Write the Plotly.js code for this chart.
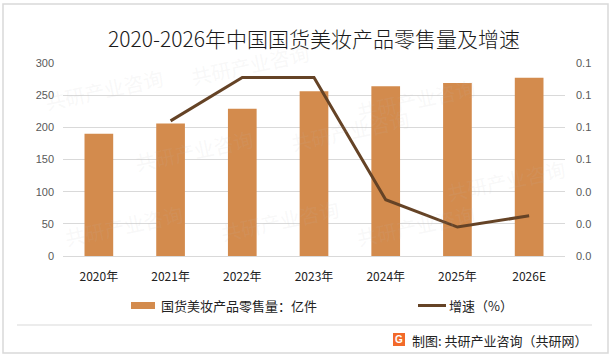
<!DOCTYPE html>
<html>
<head>
<meta charset="utf-8">
<script src="https://cdn.plot.ly/plotly-3.0.1.min.js"></script>
<style>
html,body{margin:0;padding:0;background:#fff;}
#chart{width:614px;height:358px;}
</style>
</head>
<body>
<div id="chart"></div>
<script>
// ---- data ----
const categories = ["2020年","2021年","2022年","2023年","2024年","2025年","2026E"];
const salesVolume = [190, 206, 229, 256, 264, 269, 277];
const growthCategories = ["2021年","2022年","2023年","2024年","2025年","2026E"];
const growthRate = [0.084, 0.111, 0.111, 0.035, 0.018, 0.025];
const barName = "国货美妆产品零售量：亿件";
const lineName = "增速（%）";
const chartTitle = "2020-2026年中国国货美妆产品零售量及增速";
const footerText = "制图: 共研产业咨询（共研网）";

// ---- layout helpers (pixel -> paper) ----
const W = 614, H = 358;
const M = {l: 63, r: 49, t: 63, b: 102};
const PW = W - M.l - M.r, PH = H - M.t - M.b;
const px = x => (x - M.l) / PW;
const py = y => (H - M.b - y) / PH;

const BAR_COLOR = "#d38b4d";
const LINE_COLOR = "#654326";
const CJK = "Noto Sans CJK SC, sans-serif";

const traces = [
  {
    type: "bar", name: barName, x: categories, y: salesVolume,
    marker: {color: BAR_COLOR}, width: 0.4, showlegend: false, hoverinfo: "x+y"
  },
  {
    type: "scatter", mode: "lines", name: lineName, x: growthCategories, y: growthRate,
    yaxis: "y2", line: {color: LINE_COLOR, width: 3}, showlegend: false
  }
];

const watermarks = [];
const wmPos = [[40,60],[250,35],[480,70],[130,150],[350,130],[570,180],[60,255],[280,250],[480,255]];
wmPos.forEach(p => {
  watermarks.push({xref:"paper", yref:"paper", x: px(p[0]), y: py(p[1]), text: "共研产业咨询",
    showarrow:false, textangle:-12, font:{family:CJK, size:20, color:"rgba(190,190,190,0.10)"}});
});

const layout = {
  width: W, height: H,
  margin: {l: M.l, r: M.r, t: M.t, b: M.b, pad: 0},
  paper_bgcolor: "#ffffff", plot_bgcolor: "#ffffff",
  title: {text: chartTitle, x: 0.5, xref: "paper", y: 1 - 40/H, yanchor: "middle",
    font: {family: CJK, size: 21, color: "#1a1a1a", weight: 300}},
  xaxis: {
    type: "category", showgrid: false, zeroline: false, showline: false,
    ticks: "outside", ticklen: 10, tickcolor: "rgba(0,0,0,0)",
    tickfont: {family: CJK, size: 12, color: "#222"}, fixedrange: true
  },
  yaxis: {
    range: [0, 300], dtick: 50, showgrid: true, gridcolor: "#d9d9d9", gridwidth: 1,
    zeroline: true, zerolinecolor: "#d9d9d9", showline: false,
    ticks: "", ticklabelstandoff: 8,
    tickfont: {family: "Liberation Sans, sans-serif", size: 11, color: "#595959"}
  },
  yaxis2: {
    overlaying: "y", side: "right", range: [0, 0.12], dtick: 0.02, tickformat: ".1f",
    showgrid: false, zeroline: false, showline: false, ticks: "", ticklabelstandoff: 10,
    tickfont: {family: "Liberation Sans, sans-serif", size: 11, color: "#595959"}
  },
  shapes: [
    {type:"rect", xref:"paper", yref:"paper", x0: px(3), x1: px(608), y0: py(353), y1: py(4),
      line:{color:"#d9d9d9", width:1.5}, fillcolor:"rgba(0,0,0,0)", layer:"below"},
    {type:"line", xref:"paper", yref:"paper", x0: px(17), x1: px(592), y0: py(325), y1: py(325),
      line:{color:"#d9d9d9", width:1.2}},
    // legend swatches
    {type:"rect", xref:"paper", yref:"paper", x0: px(131), x1: px(155), y0: py(309), y1: py(302),
      fillcolor: BAR_COLOR, line:{width:0}},
    {type:"line", xref:"paper", yref:"paper", x0: px(418), x1: px(446), y0: py(305.5), y1: py(305.5),
      line:{color: LINE_COLOR, width:3}},
    // logo
    {type:"rect", xref:"paper", yref:"paper", x0: px(393), x1: px(405), y0: py(346), y1: py(333),
      fillcolor:"#f26a2a", line:{width:0}}
  ],
  annotations: watermarks.concat([
    {xref:"paper", yref:"paper", x: px(159), y: py(305.5), xanchor:"left", yanchor:"middle",
      text: barName, showarrow:false, font:{family:CJK, size:13, color:"#222"}},
    {xref:"paper", yref:"paper", x: px(447), y: py(305.5), xanchor:"left", yanchor:"middle",
      text: lineName, showarrow:false, font:{family:CJK, size:13, color:"#222"}},
    {xref:"paper", yref:"paper", x: px(399), y: py(339.5), xanchor:"center", yanchor:"middle",
      text: "<b>G</b>", showarrow:false, font:{family:"Liberation Sans", size:10, color:"#fff"}},
    {xref:"paper", yref:"paper", x: px(410), y: py(340), xanchor:"left", yanchor:"middle",
      text: footerText, showarrow:false, font:{family:CJK, size:13, color:"#222"}}
  ])
};

Plotly.newPlot("chart", traces, layout, {displayModeBar: false, staticPlot: true});
</script>
</body>
</html>
